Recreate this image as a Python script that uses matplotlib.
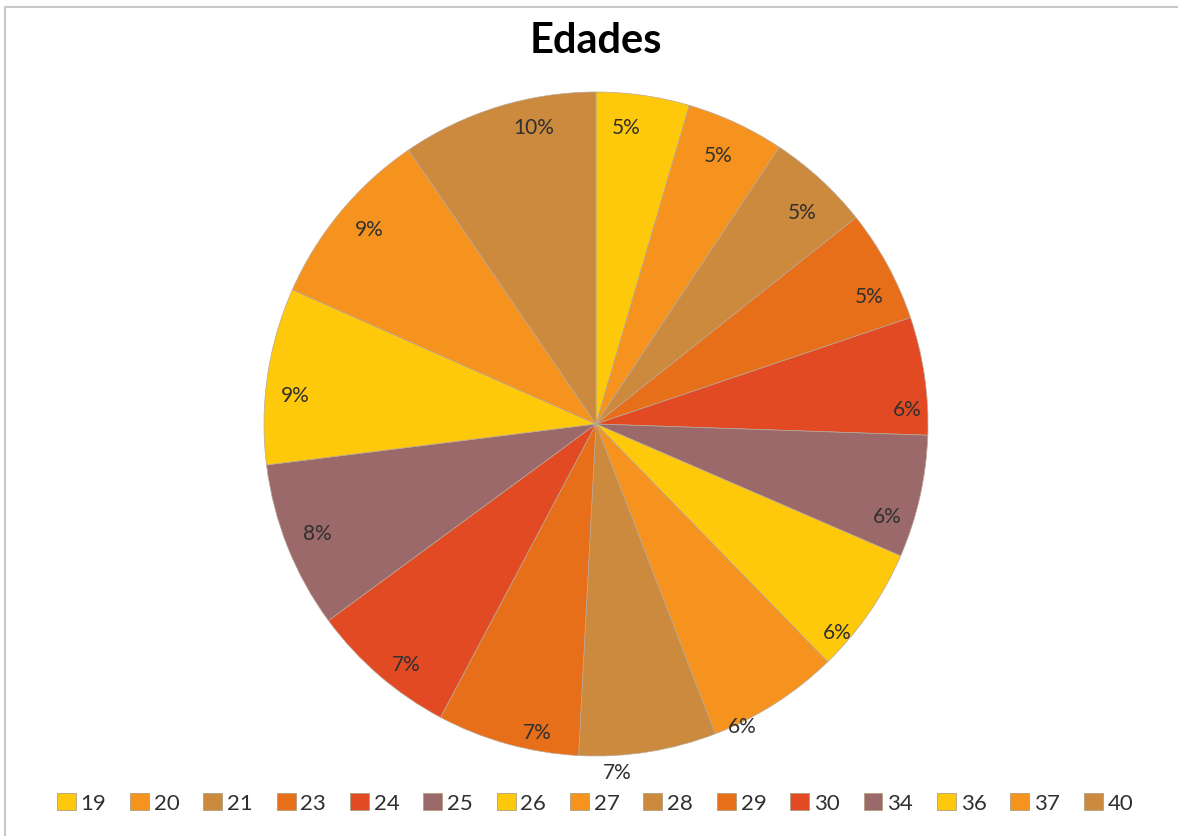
import numpy as np
import matplotlib.pyplot as plt
from matplotlib.patches import Patch
from matplotlib.lines import Line2D

plt.rcParams['font.family'] = ['Lato', 'DejaVu Sans']

# dados do grafico (cada fatia vale a propria idade)
idades = ['19', '20', '21', '23', '24', '25', '26', '27', '28', '29', '30', '34', '36', '37', '40']
valores = [19, 20, 21, 23, 24, 25, 26, 27, 28, 29, 30, 34, 36, 37, 40]

paleta = ['#FEC80B', '#F6931E', '#CC8A3F', '#E86F19', '#E24A23', '#9B6969']
cores = [paleta[i % len(paleta)] for i in range(len(valores))]

# ajuste fino da posicao dos rotulos (estilo "melhor ajuste" do Excel)
dist_rotulo = [0.90, 0.89, 0.89, 0.91, 0.94, 0.92, 0.96, 1.01, 1.05, 0.945, 0.92, 0.90, 0.91, 0.90, 0.915]
desvio_ang = [-2.3, -0.5, 1.7, 3.4, 5.6, 4.9, 6.1, 6.7, 5.5, -4.7, -2.5, 0.4, -2.9, 0.9, 5.4]

W, H = 1178, 837
fig = plt.figure(figsize=(W / 100, H / 100), dpi=100)

# pizza: centro (596, 425) px, raio 332 px
cx, cy, r = 596, 425, 332
ax = fig.add_axes([(cx - r) / W, (H - cy - r) / H, 2 * r / W, 2 * r / H])
fatias, _ = ax.pie(valores, colors=cores, startangle=90, counterclock=False,
                   radius=1, wedgeprops=dict(edgecolor='#b8a898', linewidth=0.5))
ax.set_xlim(-1, 1)
ax.set_ylim(-1, 1)
ax.set_aspect('equal')
ax.axis('off')

total = sum(valores)
for w, v, d, da in zip(fatias, valores, dist_rotulo, desvio_ang):
    meio = (w.theta1 + w.theta2) / 2 - da
    x = d * np.cos(np.radians(meio))
    y = d * np.sin(np.radians(meio))
    ax.text(x, y, f'{round(100 * v / total)}%', ha='center', va='center',
            fontsize=15, color='#303030', clip_on=False)

fig.text(596 / W, 1 - 41 / H, 'Edades', ha='center', va='center',
         fontsize=30, fontweight='bold', color='#000000')

handles = [Patch(facecolor=c, edgecolor='#b0a080', linewidth=0.6) for c in cores]
fig.legend(handles, idades, loc='center', bbox_to_anchor=(595 / W, 1 - 804 / H),
           ncol=len(idades), frameon=False, fontsize=16, labelcolor='#303030',
           handlelength=0.85, handleheight=0.85, handletextpad=0.22,
           columnspacing=1.07, borderaxespad=0)

# borda do grafico (topo e esquerda)
fig.add_artist(Line2D([5 / W, 1], [1 - 8 / H, 1 - 8 / H], color='#c8c8c8', linewidth=1.5))
fig.add_artist(Line2D([5 / W, 5 / W], [0, 1 - 8 / H], color='#c8c8c8', linewidth=1.5))

fig.savefig('out.png', dpi=100, facecolor='white')
